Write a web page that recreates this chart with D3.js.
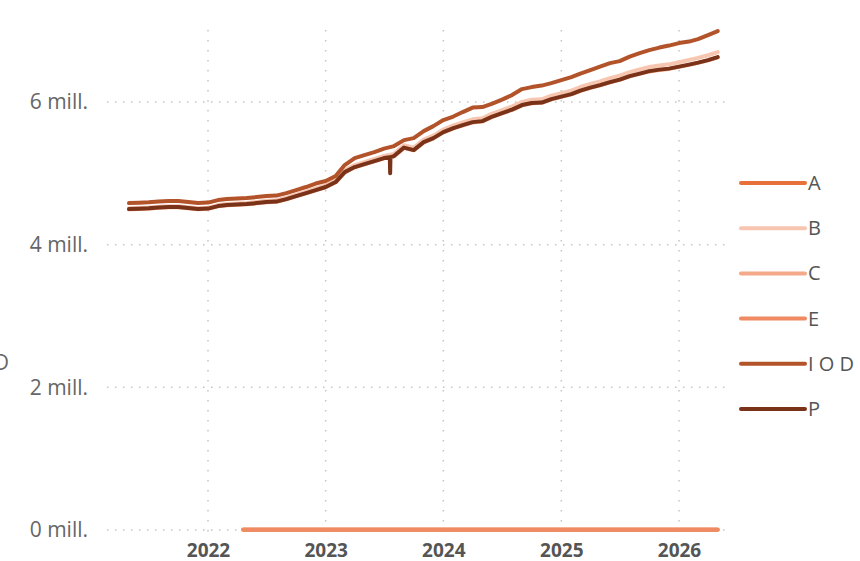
<!DOCTYPE html>
<html>
<head>
<meta charset="utf-8">
<script src="https://cdn.jsdelivr.net/npm/d3@7"></script>
<style>
  body { margin: 0; background: #fff; }
  svg { font-family: "Open Sans", "Noto Sans", sans-serif; }
</style>
</head>
<body>
<svg id="chart"></svg>
<script>
// monthly points, 2021-05 .. 2026-05
const months = [
  "2021-05","2021-06","2021-07","2021-08","2021-09","2021-10","2021-11","2021-12",
  "2022-01","2022-02","2022-03","2022-04","2022-05","2022-06","2022-07","2022-08","2022-09","2022-10","2022-11","2022-12",
  "2023-01","2023-02","2023-03","2023-04","2023-05","2023-06","2023-07","2023-08","2023-09","2023-10","2023-11","2023-12",
  "2024-01","2024-02","2024-03","2024-04","2024-05","2024-06","2024-07","2024-08","2024-09","2024-10","2024-11","2024-12",
  "2025-01","2025-02","2025-03","2025-04","2025-05","2025-06","2025-07","2025-08","2025-09","2025-10","2025-11","2025-12",
  "2026-01","2026-02","2026-03","2026-04","2026-05"
];

// values in millions
const iodValues = [
  4.583,4.587,4.593,4.604,4.611,4.611,4.597,4.583,
  4.590,4.625,4.639,4.646,4.653,4.667,4.681,4.688,4.723,4.765,4.808,4.857,
  4.892,4.962,5.116,5.214,5.256,5.298,5.347,5.382,5.466,5.494,5.592,5.662,
  5.747,5.796,5.859,5.922,5.929,5.978,6.034,6.097,6.181,6.209,6.230,6.265,
  6.307,6.349,6.398,6.447,6.496,6.545,6.573,6.637,6.686,6.728,6.763,6.791,
  6.826,6.847,6.882,6.938,6.994
];

const pValues = [
  4.499,4.503,4.509,4.520,4.527,4.527,4.513,4.499,
  4.506,4.541,4.555,4.562,4.569,4.583,4.597,4.604,4.639,4.681,4.723,4.765,
  4.808,4.878,5.017,5.088,5.130,5.172,5.214,5.242,5.361,5.326,5.438,5.494,
  5.578,5.634,5.676,5.718,5.732,5.796,5.845,5.894,5.957,5.986,5.992,6.041,
  6.076,6.111,6.160,6.202,6.237,6.279,6.314,6.363,6.398,6.433,6.454,6.468,
  6.496,6.524,6.552,6.587,6.629
];

// one-day dip in P
const pDipDates = ["2023-07-19","2023-07-20","2023-07-21"];
const pDipValues = [5.225, 5.000, 5.228];

const bValues = [
  4.512,4.516,4.522,4.533,4.540,4.540,4.526,4.512,
  4.519,4.555,4.570,4.577,4.585,4.600,4.615,4.622,4.658,4.701,4.744,4.787,
  4.831,4.902,5.043,5.115,5.158,5.201,5.244,5.273,5.393,5.359,5.472,5.529,
  5.614,5.671,5.714,5.757,5.772,5.837,5.887,5.937,6.001,6.031,6.038,6.088,
  6.124,6.160,6.210,6.253,6.290,6.333,6.369,6.419,6.455,6.491,6.513,6.528,
  6.558,6.588,6.618,6.655,6.699
];

const cValues = [
  4.495,4.499,4.505,4.516,4.523,4.523,4.509,4.495,
  4.502,4.537,4.551,4.558,4.565,4.579,4.593,4.600,4.635,4.677,4.719,4.761,
  4.804,4.874,5.013,5.084,5.126,5.168,5.210,5.238,5.357,5.322,5.434,5.490,
  5.574,5.630,5.672,5.714,5.728,5.792,5.841,5.890,5.953,5.982,5.988,6.037,
  6.072,6.107,6.156,6.198,6.233,6.275,6.310,6.359,6.394,6.429,6.450,6.464,
  6.492,6.520,6.548,6.583,6.625
];

// A and E sit on the zero line from spring 2022
const lowDates = ["2022-04-20","2022-10-01","2023-04-01","2023-10-01","2024-04-01","2024-10-01","2025-04-01","2025-10-01","2026-05-01"];
const aValues = [0.004,0.004,0.004,0.004,0.004,0.004,0.004,0.004,0.004];
const eValues = [0.006,0.006,0.006,0.006,0.006,0.006,0.006,0.006,0.006];

const seriesNames = ["A", "B", "C", "E", "I O D", "P"];
const seriesColors = ["#e8703a", "#f7c6b1", "#f4a98a", "#f08a62", "#b3532a", "#7a3319"];
const yTicks = [0, 2, 4, 6];
const xTickYears = [2022, 2023, 2024, 2025, 2026];

const width = 860, height = 561;
const parse = d3.timeParse("%Y-%m-%d");
const monthDate = m => parse(m + "-01");

const pair = (dates, values) => dates.map((d, i) => ({ date: d, value: values[i] }));
const monthly = values => pair(months.map(monthDate), values);

const pData = monthly(pValues)
  .concat(pair(pDipDates.map(parse), pDipValues))
  .sort((a, b) => a.date - b.date);

const series = {
  "A": pair(lowDates.map(parse), aValues),
  "B": monthly(bValues),
  "C": monthly(cValues),
  "E": pair(lowDates.map(parse), eValues),
  "I O D": monthly(iodValues),
  "P": pData
};

const x = d3.scaleTime()
  .domain([new Date(2022, 0, 1), new Date(2026, 0, 1)])
  .range([208, 679]);

const y = d3.scaleLinear()
  .domain([0, 6])
  .range([530, 102]);

const svg = d3.select("#chart")
  .attr("width", width)
  .attr("height", height);

// grid
svg.append("g")
  .selectAll("line")
  .data(yTicks)
  .join("line")
  .attr("x1", 107).attr("x2", 730)
  .attr("y1", d => y(d)).attr("y2", d => y(d))
  .attr("stroke", "#c4c4c4")
  .attr("stroke-width", 1.5)
  .attr("stroke-dasharray", "1.5,6.5");

svg.append("g")
  .selectAll("line")
  .data(xTickYears)
  .join("line")
  .attr("x1", d => x(new Date(d, 0, 1))).attr("x2", d => x(new Date(d, 0, 1)))
  .attr("y1", 30).attr("y2", 536)
  .attr("stroke", "#c4c4c4")
  .attr("stroke-width", 1.5)
  .attr("stroke-dasharray", "1.5,8.5");

// y axis labels
const yAxis = g => g
  .attr("transform", "translate(88,0)")
  .call(d3.axisLeft(y).tickValues(yTicks).tickSize(0).tickPadding(0).tickFormat(d => d + " mill."))
  .call(g => g.select(".domain").remove())
  .call(g => g.selectAll("text")
    .attr("font-family", "Open Sans, Noto Sans, sans-serif")
    .attr("font-size", 21)
    .attr("fill", "#666"));

svg.append("g").call(yAxis);

// x axis labels
const xAxis = g => g
  .attr("transform", "translate(0,543)")
  .call(d3.axisBottom(x).tickValues(xTickYears.map(yr => new Date(yr, 0, 1))).tickSize(0).tickPadding(0).tickFormat(d3.timeFormat("%Y")))
  .call(g => g.select(".domain").remove())
  .call(g => g.selectAll("text")
    .attr("font-family", "Open Sans, Noto Sans, sans-serif")
    .attr("font-size", 19)
    .attr("font-weight", "bold")
    .attr("fill", "#555"));

svg.append("g").call(xAxis);

// clipped axis title at the left edge
svg.append("text")
  .attr("x", 9)
  .attr("y", 370)
  .attr("text-anchor", "end")
  .attr("font-size", 21)
  .attr("fill", "#666")
  .text("I O D");

const line = d3.line()
  .x(d => x(d.date))
  .y(d => y(d.value));

seriesNames.forEach((name, i) => {
  svg.append("path")
    .datum(series[name])
    .attr("fill", "none")
    .attr("stroke", seriesColors[i])
    .attr("stroke-width", 4)
    .attr("stroke-linejoin", "round")
    .attr("stroke-linecap", "round")
    .attr("d", line);
});

// legend
const legend = svg.append("g")
  .selectAll("g")
  .data(seriesNames)
  .join("g")
  .attr("transform", (d, i) => `translate(741,${183 + i * 45.2})`);

legend.append("line")
  .attr("x1", 0).attr("x2", 64)
  .attr("stroke", (d, i) => seriesColors[i])
  .attr("stroke-width", 4)
  .attr("stroke-linecap", "round");

legend.append("text")
  .attr("x", 67)
  .attr("y", 7)
  .attr("font-size", 20)
  .attr("fill", "#555")
  .text(d => d);
</script>
</body>
</html>
